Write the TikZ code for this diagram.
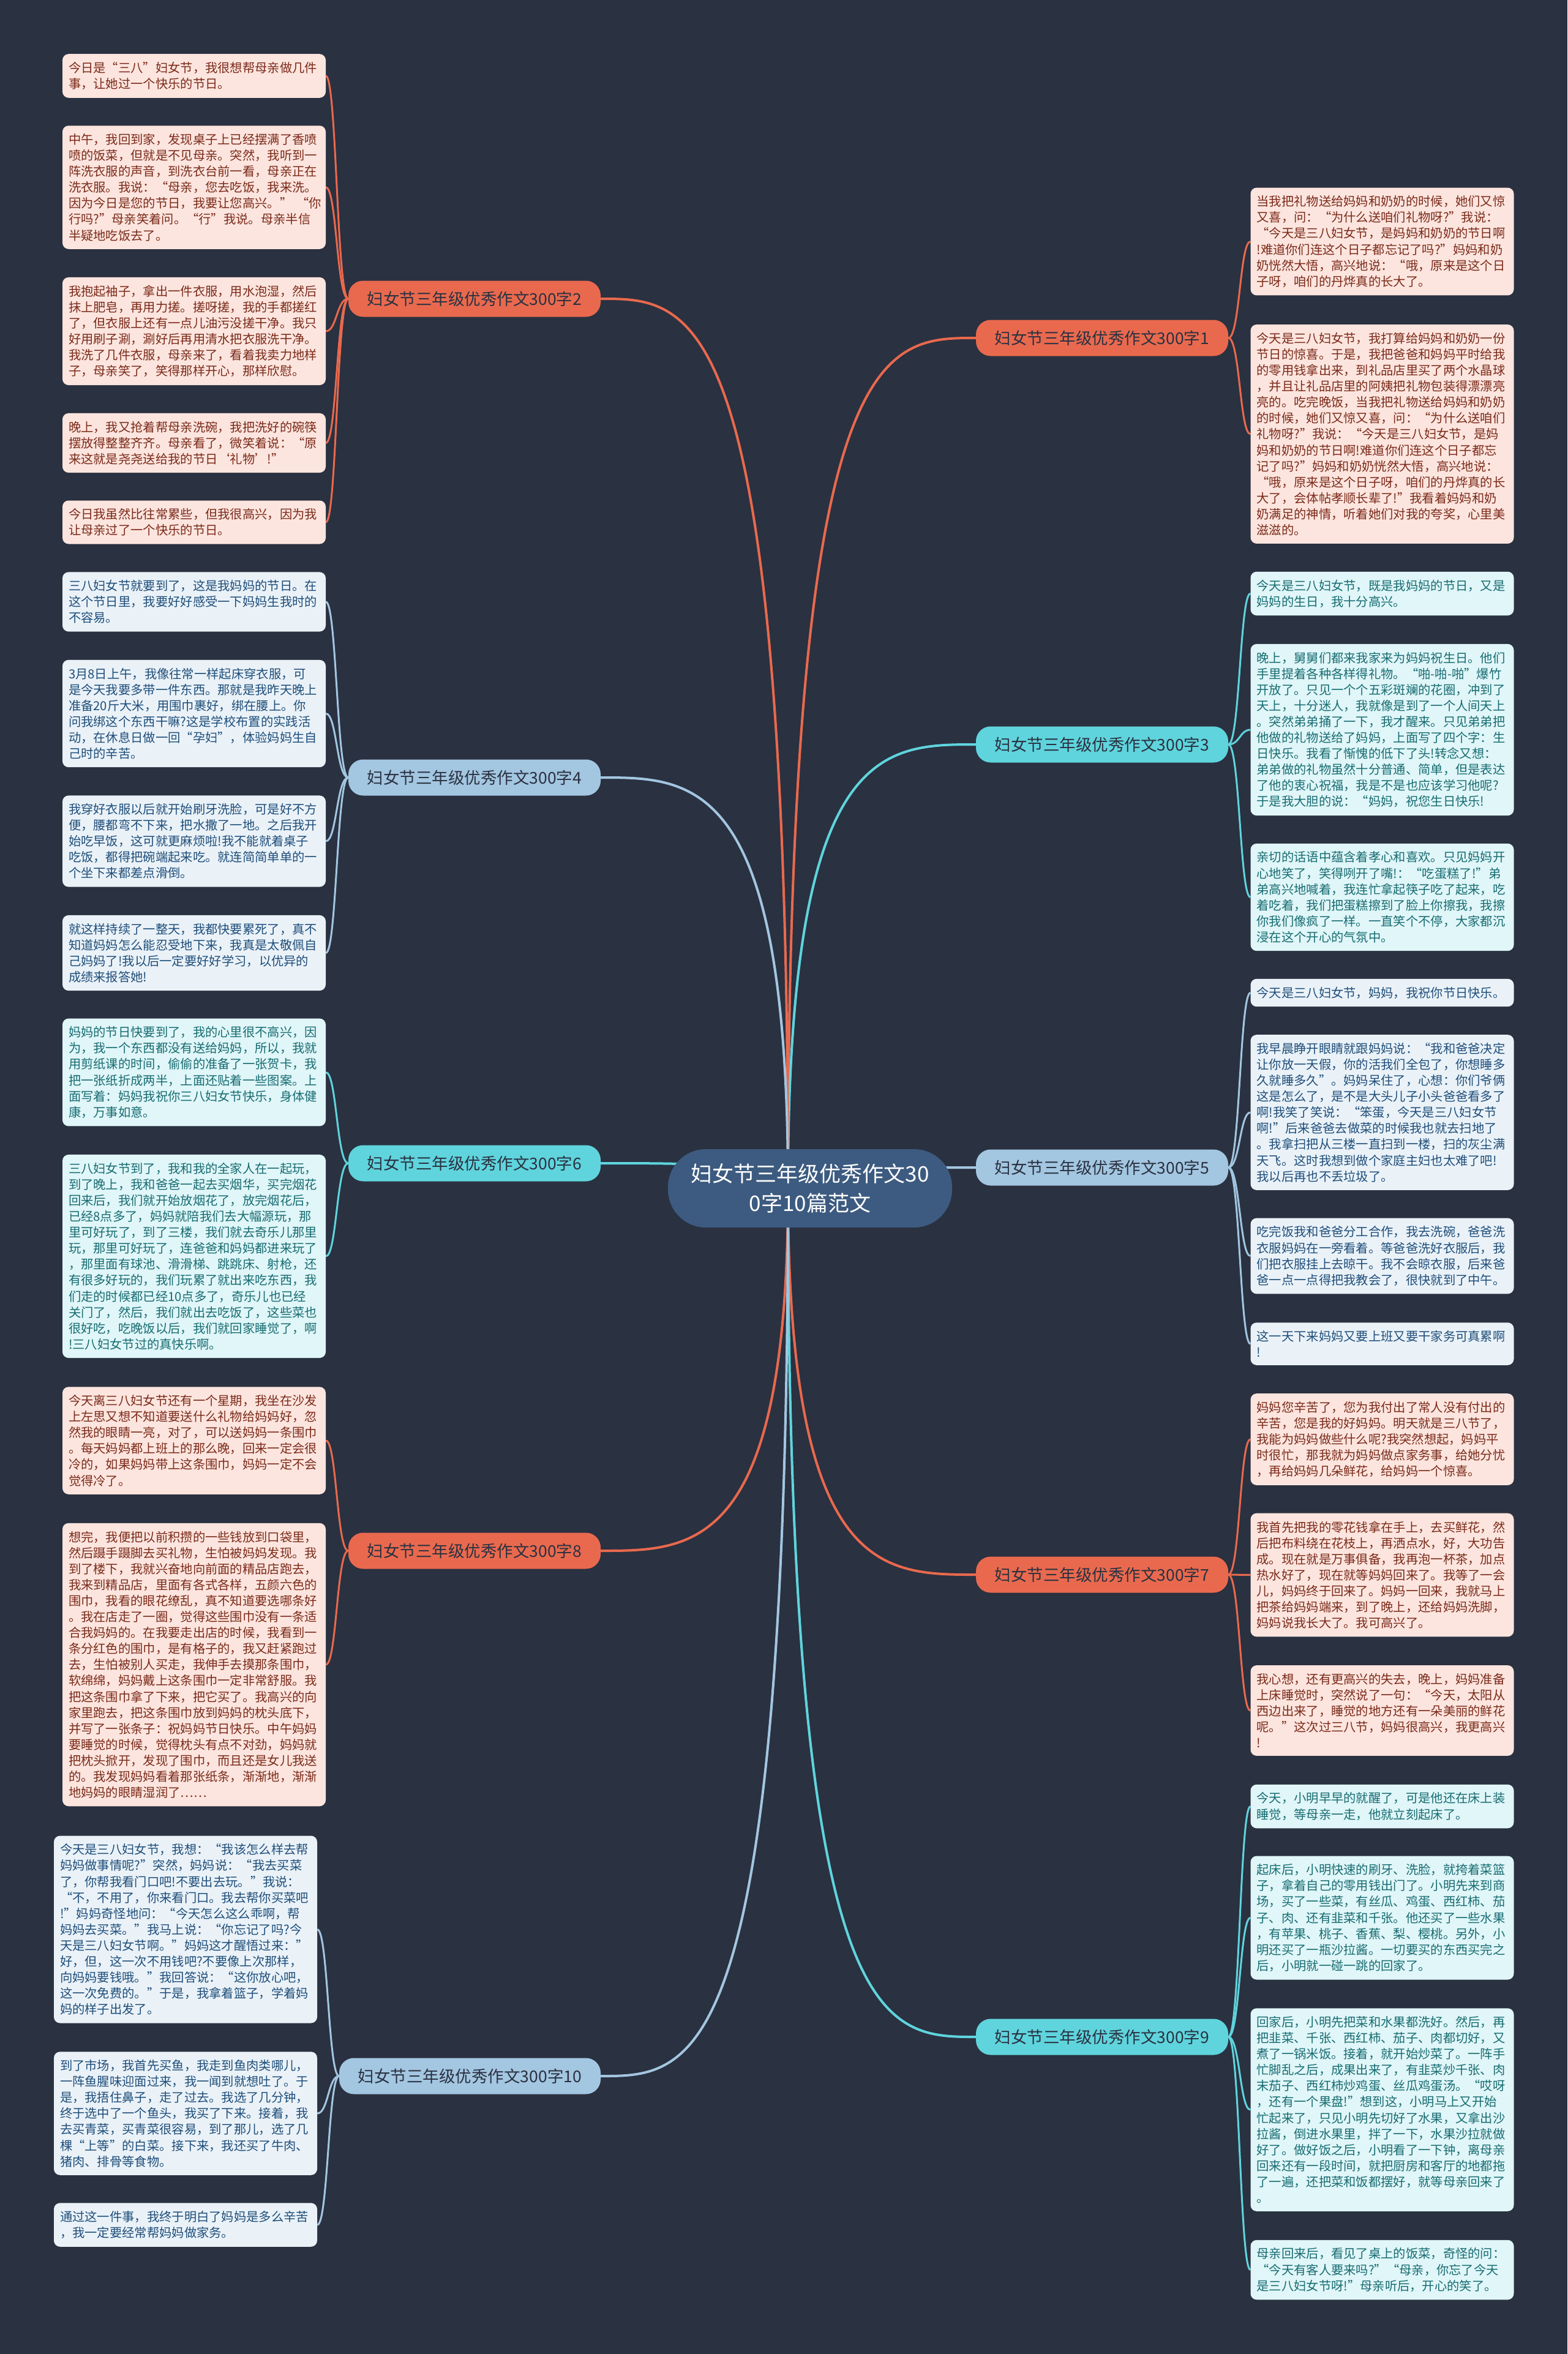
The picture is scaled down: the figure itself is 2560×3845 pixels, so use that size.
\documentclass[tikz,border=0pt]{standalone}
\usepackage{fontspec}
\setmainfont{Noto Sans CJK SC}
\usetikzlibrary{backgrounds}
\definecolor{bgc}{HTML}{2A3140}
\definecolor{ctr}{HTML}{3D5B80}
\definecolor{org}{HTML}{E9694E}
\definecolor{orgL}{HTML}{FCE5DE}
\definecolor{orgT}{HTML}{7B2A1A}
\definecolor{blu}{HTML}{A3C6E1}
\definecolor{bluL}{HTML}{EAF2F8}
\definecolor{bluT}{HTML}{1F4E7A}
\definecolor{cya}{HTML}{5FD4DD}
\definecolor{cyaL}{HTML}{E0F6F8}
\definecolor{cyaT}{HTML}{176C72}
\pgfdeclarelayer{edges}
\pgfsetlayers{background,edges,main}
\newcommand{\leaffont}{\fontsize{20.3}{26.1}\selectfont}
\newcommand{\branchfont}{\fontsize{26.5}{30}\selectfont}
\newcommand{\centerfont}{\fontsize{35}{48}\selectfont}
\tikzset{
  leafbox/.style={rounded corners=10pt, inner xsep=10pt, inner ysep=13pt, text width=410pt, align=left, font=\leaffont},
  orgleaf/.style={leafbox, fill=orgL, text=orgT},
  bluleaf/.style={leafbox, fill=bluL, text=bluT},
  cyaleaf/.style={leafbox, fill=cyaL, text=cyaT},
  branchbox/.style={rounded corners=24pt, minimum width=412pt, minimum height=59pt, inner sep=0pt, font=\branchfont, text=bgc},
  orgbranch/.style={branchbox, fill=org},
  blubranch/.style={branchbox, fill=blu},
  cyabranch/.style={branchbox, fill=cya},
  mainlink/.style={line width=4pt},
  leaflink/.style={line width=3pt},
}
\begin{document}
\begin{tikzpicture}[x=1pt,y=-1pt]
\begin{pgfonlayer}{background}
\fill[bgc] (0,0) rectangle (2560,3845);
\end{pgfonlayer}
\useasboundingbox (0,0) rectangle (2560,3845);

% center
\node[fill=ctr, rounded corners=62pt, minimum width=464pt, minimum height=128pt, align=center, text=white, font=\centerfont, inner sep=0pt] (c) at (1323,1941) {妇女节三年级优秀作文30\\0字10篇范文};
\coordinate (hub) at (1287,1941);

% branches
\node[orgbranch] (b1) at (1800,552) {妇女节三年级优秀作文300字1};
\node[cyabranch] (b3) at (1800,1216) {妇女节三年级优秀作文300字3};
\node[blubranch] (b5) at (1800,1907) {妇女节三年级优秀作文300字5};
\node[orgbranch] (b7) at (1800,2572) {妇女节三年级优秀作文300字7};
\node[cyabranch] (b9) at (1800,3327) {妇女节三年级优秀作文300字9};
\node[orgbranch] (b2) at (775,488) {妇女节三年级优秀作文300字2};
\node[blubranch] (b4) at (775,1270) {妇女节三年级优秀作文300字4};
\node[cyabranch] (b6) at (775,1900) {妇女节三年级优秀作文300字6};
\node[orgbranch] (b8) at (775,2533) {妇女节三年级优秀作文300字8};
\node[blubranch, minimum width=427pt] (b10) at (767.5,3391) {妇女节三年级优秀作文300字10};

% left leaves
\node[orgleaf] (l1) at (317,124) {今日是“三八”妇女节，我很想帮母亲做几件\\事，让她过一个快乐的节日。};
\node[orgleaf] (l2) at (317,306) {中午，我回到家，发现桌子上已经摆满了香喷\\喷的饭菜，但就是不见母亲。突然，我听到一\\阵洗衣服的声音，到洗衣台前一看，母亲正在\\洗衣服。我说：“母亲，您去吃饭，我来洗。\\因为今日是您的节日，我要让您高兴。”~“你\\行吗?”母亲笑着问。“行”我说。母亲半信\\半疑地吃饭去了。};
\node[orgleaf] (l3) at (317,541) {我抱起袖子，拿出一件衣服，用水泡湿，然后\\抹上肥皂，再用力搓。搓呀搓，我的手都搓红\\了，但衣服上还有一点儿油污没搓干净。我只\\好用刷子涮，涮好后再用清水把衣服洗干净。\\我洗了几件衣服，母亲来了，看着我卖力地样\\子，母亲笑了，笑得那样开心，那样欣慰。};
\node[orgleaf] (l4) at (317,723.5) {晚上，我又抢着帮母亲洗碗，我把洗好的碗筷\\摆放得整整齐齐。母亲看了，微笑着说：“原\\来这就是尧尧送给我的节日‘礼物’!”};
\node[orgleaf] (l5) at (317,853) {今日我虽然比往常累些，但我很高兴，因为我\\让母亲过了一个快乐的节日。};
\node[bluleaf] (l6) at (317,983) {三八妇女节就要到了，这是我妈妈的节日。在\\这个节日里，我要好好感受一下妈妈生我时的\\不容易。};
\node[bluleaf] (l7) at (317,1165.5) {3月8日上午，我像往常一样起床穿衣服，可\\是今天我要多带一件东西。那就是我昨天晚上\\准备20斤大米，用围巾裹好，绑在腰上。你\\问我绑这个东西干嘛?这是学校布置的实践活\\动，在休息日做一回“孕妇”，体验妈妈生自\\己时的辛苦。};
\node[bluleaf] (l8) at (317,1374) {我穿好衣服以后就开始刷牙洗脸，可是好不方\\便，腰都弯不下来，把水撒了一地。之后我开\\始吃早饭，这可就更麻烦啦!我不能就着桌子\\吃饭，都得把碗端起来吃。就连简简单单的一\\个坐下来都差点滑倒。};
\node[bluleaf] (l9) at (317,1556.5) {就这样持续了一整天，我都快要累死了，真不\\知道妈妈怎么能忍受地下来，我真是太敬佩自\\己妈妈了!我以后一定要好好学习，以优异的\\成绩来报答她!};
\node[cyaleaf] (l10) at (317,1751.5) {妈妈的节日快要到了，我的心里很不高兴，因\\为，我一个东西都没有送给妈妈，所以，我就\\用剪纸课的时间，偷偷的准备了一张贺卡，我\\把一张纸折成两半，上面还贴着一些图案。上\\面写着：妈妈我祝你三八妇女节快乐，身体健\\康，万事如意。};
\node[cyaleaf] (l11) at (317,2052) {三八妇女节到了，我和我的全家人在一起玩，\\到了晚上，我和爸爸一起去买烟华，买完烟花\\回来后，我们就开始放烟花了，放完烟花后，\\已经8点多了，妈妈就陪我们去大幅源玩，那\\里可好玩了，到了三楼，我们就去奇乐儿那里\\玩，那里可好玩了，连爸爸和妈妈都进来玩了\\，那里面有球池、滑滑梯、跳跳床、射枪，还\\有很多好玩的，我们玩累了就出来吃东西，我\\们走的时候都已经10点多了，奇乐儿也已经\\关门了，然后，我们就出去吃饭了，这些菜也\\很好吃，吃晚饭以后，我们就回家睡觉了，啊\\!三八妇女节过的真快乐啊。};
\node[orgleaf] (l12) at (317,2353) {今天离三八妇女节还有一个星期，我坐在沙发\\上左思又想不知道要送什么礼物给妈妈好，忽\\然我的眼睛一亮，对了，可以送妈妈一条围巾\\。每天妈妈都上班上的那么晚，回来一定会很\\冷的，如果妈妈带上这条围巾，妈妈一定不会\\觉得冷了。};
\node[orgleaf] (l13) at (317,2719) {想完，我便把以前积攒的一些钱放到口袋里，\\然后蹑手蹑脚去买礼物，生怕被妈妈发现。我\\到了楼下，我就兴奋地向前面的精品店跑去，\\我来到精品店，里面有各式各样，五颜六色的\\围巾，我看的眼花缭乱，真不知道要选哪条好\\。我在店走了一圈，觉得这些围巾没有一条适\\合我妈妈的。在我要走出店的时候，我看到一\\条分红色的围巾，是有格子的，我又赶紧跑过\\去，生怕被别人买走，我伸手去摸那条围巾，\\软绵绵，妈妈戴上这条围巾一定非常舒服。我\\把这条围巾拿了下来，把它买了。我高兴的向\\家里跑去，把这条围巾放到妈妈的枕头底下，\\并写了一张条子：祝妈妈节日快乐。中午妈妈\\要睡觉的时候，觉得枕头有点不对劲，妈妈就\\把枕头掀开，发现了围巾，而且还是女儿我送\\的。我发现妈妈看着那张纸条，渐渐地，渐渐\\地妈妈的眼睛湿润了……};
\node[bluleaf] (l14) at (303,3151.5) {今天是三八妇女节，我想：“我该怎么样去帮\\妈妈做事情呢?”突然，妈妈说：“我去买菜\\了，你帮我看门口吧!不要出去玩。”我说：\\“不，不用了，你来看门口。我去帮你买菜吧\\!”妈妈奇怪地问：“今天怎么这么乖啊，帮\\妈妈去买菜。”我马上说：“你忘记了吗?今\\天是三八妇女节啊。”妈妈这才醒悟过来：”\\好，但，这一次不用钱吧?不要像上次那样，\\向妈妈要钱哦。”我回答说：“这你放心吧，\\这一次免费的。”于是，我拿着篮子，学着妈\\妈的样子出发了。};
\node[bluleaf] (l15) at (303,3452) {到了市场，我首先买鱼，我走到鱼肉类哪儿，\\一阵鱼腥味迎面过来，我一闻到就想吐了。于\\是，我捂住鼻子，走了过去。我选了几分钟，\\终于选中了一个鱼头，我买了下来。接着，我\\去买青菜，买青菜很容易，到了那儿，选了几\\棵“上等”的白菜。接下来，我还买了牛肉、\\猪肉、排骨等食物。};
\node[bluleaf] (l16) at (303,3634) {通过这一件事，我终于明白了妈妈是多么辛苦\\，我一定要经常帮妈妈做家务。};

% right leaves
\node[orgleaf] (r1) at (2257.5,394.5) {当我把礼物送给妈妈和奶奶的时候，她们又惊\\又喜，问：“为什么送咱们礼物呀?”我说：\\“今天是三八妇女节，是妈妈和奶奶的节日啊\\!难道你们连这个日子都忘记了吗?”妈妈和奶\\奶恍然大悟，高兴地说：“哦，原来是这个日\\子呀，咱们的丹烨真的长大了。};
\node[orgleaf] (r2) at (2257.5,709) {今天是三八妇女节，我打算给妈妈和奶奶一份\\节日的惊喜。于是，我把爸爸和妈妈平时给我\\的零用钱拿出来，到礼品店里买了两个水晶球\\，并且让礼品店里的阿姨把礼物包装得漂漂亮\\亮的。吃完晚饭，当我把礼物送给妈妈和奶奶\\的时候，她们又惊又喜，问：“为什么送咱们\\礼物呀?”我说：“今天是三八妇女节，是妈\\妈和奶奶的节日啊!难道你们连这个日子都忘\\记了吗?”妈妈和奶奶恍然大悟，高兴地说：\\“哦，原来是这个日子呀，咱们的丹烨真的长\\大了，会体帖孝顺长辈了!”我看着妈妈和奶\\奶满足的神情，听着她们对我的夸奖，心里美\\滋滋的。};
\node[cyaleaf] (r3) at (2257.5,969.5) {今天是三八妇女节，既是我妈妈的节日，又是\\妈妈的生日，我十分高兴。};
\node[cyaleaf] (r4) at (2257.5,1192) {晚上，舅舅们都来我家来为妈妈祝生日。他们\\手里提着各种各样得礼物。“啪-啪-啪”爆竹\\开放了。只见一个个五彩斑斓的花圈，冲到了\\天上，十分迷人，我就像是到了一个人间天上\\。突然弟弟捅了一下，我才醒来。只见弟弟把\\他做的礼物送给了妈妈，上面写了四个字：生\\日快乐。我看了惭愧的低下了头!转念又想：\\弟弟做的礼物虽然十分普通、简单，但是表达\\了他的衷心祝福，我是不是也应该学习他呢?\\于是我大胆的说：“妈妈，祝您生日快乐!};
\node[cyaleaf] (r5) at (2257.5,1465.5) {亲切的话语中蕴含着孝心和喜欢。只见妈妈开\\心地笑了，笑得咧开了嘴!：“吃蛋糕了!”弟\\弟高兴地喊着，我连忙拿起筷子吃了起来，吃\\着吃着，我们把蛋糕擦到了脸上你擦我，我擦\\你我们像疯了一样。一直笑个不停，大家都沉\\浸在这个开心的气氛中。};
\node[bluleaf] (r6) at (2257.5,1621.5) {今天是三八妇女节，妈妈，我祝你节日快乐。};
\node[bluleaf] (r7) at (2257.5,1817) {我早晨睁开眼睛就跟妈妈说：“我和爸爸决定\\让你放一天假，你的活我们全包了，你想睡多\\久就睡多久”。妈妈呆住了，心想：你们爷俩\\这是怎么了，是不是大头儿子小头爸爸看多了\\啊!我笑了笑说：“笨蛋，今天是三八妇女节\\啊!”后来爸爸去做菜的时候我也就去扫地了\\。我拿扫把从三楼一直扫到一楼，扫的灰尘满\\天飞。这时我想到做个家庭主妇也太难了吧!\\我以后再也不丢垃圾了。};
\node[bluleaf] (r8) at (2257.5,2051.5) {吃完饭我和爸爸分工合作，我去洗碗，爸爸洗\\衣服妈妈在一旁看着。等爸爸洗好衣服后，我\\们把衣服挂上去晾干。我不会晾衣服，后来爸\\爸一点一点得把我教会了，很快就到了中午。};
\node[bluleaf] (r9) at (2257.5,2195) {这一天下来妈妈又要上班又要干家务可真累啊\\!};
\node[orgleaf] (r10) at (2257.5,2351) {妈妈您辛苦了，您为我付出了常人没有付出的\\辛苦，您是我的好妈妈。明天就是三八节了，\\我能为妈妈做些什么呢?我突然想起，妈妈平\\时很忙，那我就为妈妈做点家务事，给她分忧\\，再给妈妈几朵鲜花，给妈妈一个惊喜。};
\node[orgleaf] (r11) at (2257.5,2572.5) {我首先把我的零花钱拿在手上，去买鲜花，然\\后把布料绕在花枝上，再洒点水，好，大功告\\成。现在就是万事俱备，我再泡一杯茶，加点\\热水好了，现在就等妈妈回来了。我等了一会\\儿，妈妈终于回来了。妈妈一回来，我就马上\\把茶给妈妈端来，到了晚上，还给妈妈洗脚，\\妈妈说我长大了。我可高兴了。};
\node[orgleaf] (r12) at (2257.5,2794) {我心想，还有更高兴的失去，晚上，妈妈准备\\上床睡觉时，突然说了一句：“今天，太阳从\\西边出来了，睡觉的地方还有一朵美丽的鲜花\\呢。”这次过三八节，妈妈很高兴，我更高兴\\!};
\node[cyaleaf] (r13) at (2257.5,2950.5) {今天，小明早早的就醒了，可是他还在床上装\\睡觉，等母亲一走，他就立刻起床了。};
\node[cyaleaf] (r14) at (2257.5,3132.5) {起床后，小明快速的刷牙、洗脸，就挎着菜篮\\子，拿着自己的零用钱出门了。小明先来到商\\场，买了一些菜，有丝瓜、鸡蛋、西红柿、茄\\子、肉、还有韭菜和千张。他还买了一些水果\\，有苹果、桃子、香蕉、梨、樱桃。另外，小\\明还买了一瓶沙拉酱。一切要买的东西买完之\\后，小明就一碰一跳的回家了。};
\node[cyaleaf] (r15) at (2257.5,3446) {回家后，小明先把菜和水果都洗好。然后，再\\把韭菜、千张、西红柿、茄子、肉都切好，又\\煮了一锅米饭。接着，就开始炒菜了。一阵手\\忙脚乱之后，成果出来了，有韭菜炒千张、肉\\末茄子、西红柿炒鸡蛋、丝瓜鸡蛋汤。“哎呀\\，还有一个果盘!”想到这，小明马上又开始\\忙起来了，只见小明先切好了水果，又拿出沙\\拉酱，倒进水果里，拌了一下，水果沙拉就做\\好了。做好饭之后，小明看了一下钟，离母亲\\回来还有一段时间，就把厨房和客厅的地都拖\\了一遍，还把菜和饭都摆好，就等母亲回来了\\。};
\node[cyaleaf] (r16) at (2257.5,3707.5) {母亲回来后，看见了桌上的饭菜，奇怪的问：\\“今天有客人要来吗?”“母亲，你忘了今天\\是三八妇女节呀!”母亲听后，开心的笑了。};

\begin{pgfonlayer}{edges}
% center to branches
\draw[mainlink, org] (hub) .. controls (1287,552) and (1440,552) .. (b1.west);
\draw[mainlink, cya] (hub) .. controls (1287,1216) and (1440,1216) .. (b3.west);
\draw[mainlink, blu] (hub) .. controls (1287,1907) and (1440,1907) .. (b5.west);
\draw[mainlink, org] (hub) .. controls (1287,2572) and (1440,2572) .. (b7.west);
\draw[mainlink, cya] (hub) .. controls (1287,3327) and (1440,3327) .. (b9.west);
\draw[mainlink, org] (hub) .. controls (1287,488) and (1134,488) .. (b2.east);
\draw[mainlink, blu] (hub) .. controls (1287,1270) and (1134,1270) .. (b4.east);
\draw[mainlink, cya] (hub) .. controls (1287,1900) and (1134,1900) .. (b6.east);
\draw[mainlink, org] (hub) .. controls (1287,2533) and (1134,2533) .. (b8.east);
\draw[mainlink, blu] (hub) .. controls (1287,3391) and (1134,3391) .. (b10.east);
% right leaves
\foreach \b/\l/\y/\by/\col in {b1/r1/394.5/552/org, b1/r2/709/552/org, b3/r3/969.5/1216/cya, b3/r4/1192/1216/cya, b3/r5/1465.5/1216/cya, b5/r6/1621.5/1907/blu, b5/r7/1817/1907/blu, b5/r8/2051.5/1907/blu, b5/r9/2195/1907/blu, b7/r10/2351/2572/org, b7/r11/2572.5/2572/org, b7/r12/2794/2572/org, b9/r13/2950.5/3327/cya, b9/r14/3132.5/3327/cya, b9/r15/3446/3327/cya, b9/r16/3707.5/3327/cya}
  \draw[leaflink, \col] (\b.east) .. controls (2025,\by) and (2025,\y) .. (\l.west);
% left leaves
\foreach \b/\l/\y/\by/\col in {b2/l1/124/488/org, b2/l2/306/488/org, b2/l3/541/488/org, b2/l4/723.5/488/org, b2/l5/853/488/org, b4/l6/983/1270/blu, b4/l7/1165.5/1270/blu, b4/l8/1374/1270/blu, b4/l9/1556.5/1270/blu, b6/l10/1751.5/1900/cya, b6/l11/2052/1900/cya, b8/l12/2353/2533/org, b8/l13/2719/2533/org}
  \draw[leaflink, \col] (\b.west) .. controls (550,\by) and (550,\y) .. (\l.east);
\foreach \l/\y in {l14/3151.5, l15/3452, l16/3634}
  \draw[leaflink, blu] (b10.west) .. controls (536,3391) and (536,\y) .. (\l.east);
\end{pgfonlayer}
\end{tikzpicture}
\end{document}
